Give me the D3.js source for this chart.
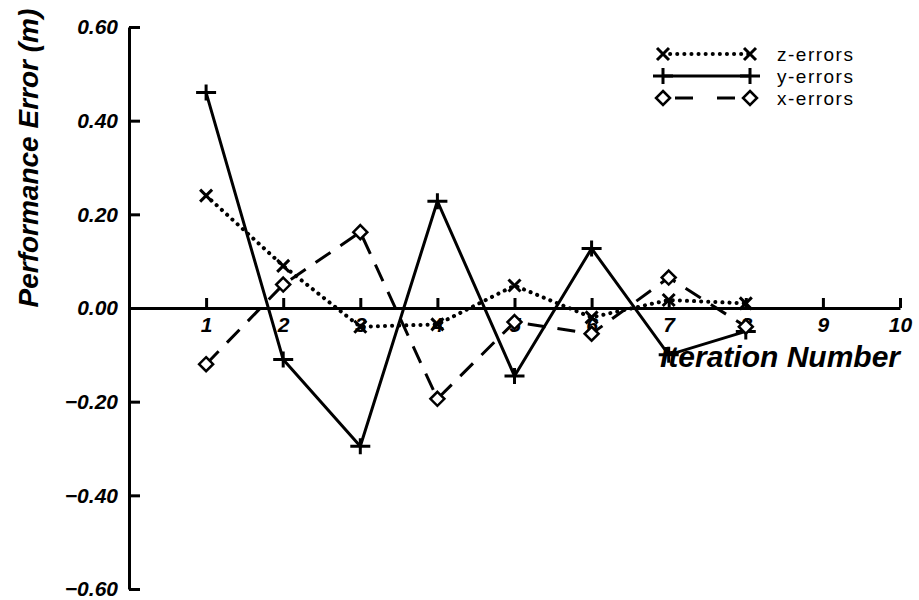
<!DOCTYPE html>
<html>
<head>
<meta charset="utf-8">
<script src="https://cdn.jsdelivr.net/npm/d3@7"></script>
<style>
  body { margin: 0; background: #fff; }
  svg { display: block; font-family: "Liberation Sans", Arial, Helvetica, sans-serif; }
  .axis path, .axis line { stroke: #000; stroke-width: 3; }
  .axis text { font-size: 21px; font-weight: bold; font-style: italic; fill: #000; }
</style>
</head>
<body>
<svg width="919" height="600"></svg>
<script>
        // Chart data.
        const iterations = [1, 2, 3, 4, 5, 6, 7, 8];
        const zErrors = [0.24, 0.09, -0.04, -0.035, 0.048, -0.02, 0.017, 0.01];
        const yErrors = [0.46, -0.11, -0.295, 0.228, -0.145, 0.127, -0.10, -0.05];
        const xErrors = [-0.12, 0.05, 0.162, -0.194, -0.03, -0.055, 0.065, -0.04];
        const xTicks = [1, 2, 3, 4, 5, 6, 7, 8, 9, 10];
        const yTicks = [-0.6, -0.4, -0.2, 0, 0.2, 0.4, 0.6];

        const series = [
            { name: "z-errors", values: zErrors, marker: "x", dash: "0.1,7" },
            { name: "y-errors", values: yErrors, marker: "plus", dash: null },
            { name: "x-errors", values: xErrors, marker: "diamond", dash: "18,12" }
        ];

        let svg = d3.select("svg");

        const x = d3.scaleLinear().domain([0, 10]).range([129, 900]);
        const y = d3.scaleLinear().domain([-0.6, 0.6]).range([589, 27]);

        // Y axis, ticks pointing inward.
        svg.append("g")
            .attr("class", "axis")
            .attr("transform", `translate(${x(0)},0)`)
            .call(d3.axisLeft(y).tickValues(yTicks).tickFormat(d3.format(".2f"))
                .tickSizeInner(-11).tickSizeOuter(0).tickPadding(11));

        // X axis along zero.
        svg.append("g")
            .attr("class", "axis")
            .attr("transform", `translate(0,${y(0)})`)
            .call(d3.axisBottom(x).tickValues(xTicks).tickFormat(d3.format("d"))
                .tickSizeInner(-10).tickSizeOuter(0).tickPadding(9))
            .selectAll("text").attr("font-size", 18);

        // Axis titles.
        svg.append("text")
            .attr("transform", `translate(38,${y(0.32)}) rotate(-90)`)
            .attr("text-anchor", "middle")
            .attr("font-size", 28)
            .attr("font-weight", "bold")
            .attr("font-style", "italic")
            .text("Performance Error (m)");

        svg.append("text")
            .attr("x", x(10))
            .attr("y", 367)
            .attr("text-anchor", "end")
            .attr("font-size", 30)
            .attr("font-weight", "bold")
            .attr("font-style", "italic")
            .text("Iteration Number");

        // Marker drawing.
        function drawMarker(g, type, cx, cy) {
            if (type === "plus") {
                g.append("path")
                    .attr("d", `M${cx - 10},${cy}H${cx + 10}M${cx},${cy - 8}V${cy + 8}`)
                    .attr("stroke", "#000").attr("stroke-width", 3).attr("fill", "none");
            } else if (type === "x") {
                g.append("path")
                    .attr("d", `M${cx - 6},${cy - 6}L${cx + 6},${cy + 6}M${cx - 6},${cy + 6}L${cx + 6},${cy - 6}`)
                    .attr("stroke", "#000").attr("stroke-width", 3).attr("fill", "none");
            } else {
                g.append("path")
                    .attr("d", `M${cx},${cy - 7}L${cx + 7},${cy}L${cx},${cy + 7}L${cx - 7},${cy}Z`)
                    .attr("stroke", "#000").attr("stroke-width", 2.5).attr("fill", "#fff");
            }
        }

        const line = d3.line()
            .x((d, i) => x(iterations[i]))
            .y(d => y(d));

        series.forEach(s => {
            svg.append("path")
                .datum(s.values)
                .attr("d", line)
                .attr("fill", "none")
                .attr("stroke", "#000")
                .attr("stroke-width", s.marker === "x" ? 4 : 3)
                .attr("stroke-linecap", s.marker === "x" ? "round" : "butt")
                .attr("stroke-dasharray", s.dash);
        });

        series.forEach(s => {
            const g = svg.append("g");
            s.values.forEach((v, i) => drawMarker(g, s.marker, x(iterations[i]), y(v)));
        });

        // Legend.
        const legendY = [54, 76, 98];
        series.forEach((s, i) => {
            const g = svg.append("g");
            g.append("line")
                .attr("x1", 663).attr("x2", 750)
                .attr("y1", legendY[i]).attr("y2", legendY[i])
                .attr("stroke", "#000")
                .attr("stroke-width", s.marker === "x" ? 4 : 3)
                .attr("stroke-linecap", s.marker === "x" ? "round" : "butt")
                .attr("stroke-dasharray", s.marker === "diamond" ? "0,12,18,12" : s.dash);
            drawMarker(g, s.marker, 663, legendY[i]);
            drawMarker(g, s.marker, 750, legendY[i]);
            g.append("text")
                .attr("x", 777)
                .attr("y", legendY[i])
                .attr("dy", "0.35em")
                .attr("font-size", 19)
                .attr("letter-spacing", 1.5)
                .text(s.name);
        });
</script>
</body>
</html>
